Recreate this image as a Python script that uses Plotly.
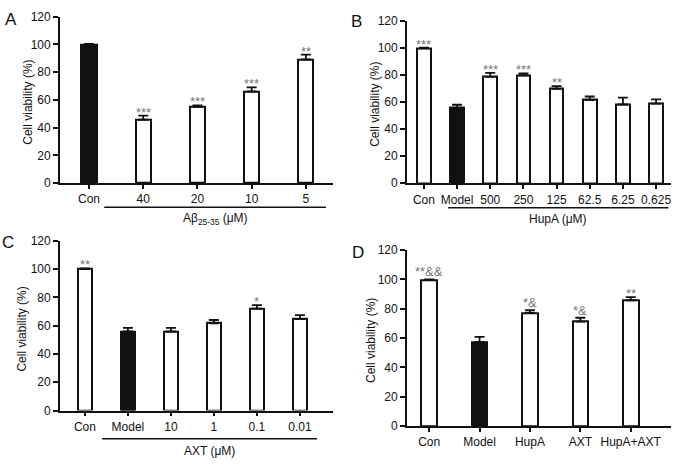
import plotly.graph_objects as go

# ---------------- data ----------------
a_labels = ["Con", "40", "20", "10", "5"]
a_values = [99.8, 45.8, 55.0, 66.1, 89.2]
a_errors = [0.5, 2.8, 1.0, 2.9, 3.4]
a_stars = ["", "***", "***", "***", "**"]
a_black = [True, False, False, False, False]
a_group = "Aβ<sub>25-35</sub> (μM)"

b_labels = ["Con", "Model", "500", "250", "125", "62.5", "6.25", "0.625"]
b_values = [99.6, 55.5, 78.4, 79.6, 69.6, 61.4, 58.1, 58.8]
b_errors = [0.5, 2.4, 3.0, 1.4, 2.1, 2.6, 5.0, 3.1]
b_stars = ["***", "", "***", "***", "**", "", "", ""]
b_black = [False, True, False, False, False, False, False, False]
b_group = "HupA (μM)"

c_labels = ["Con", "Model", "10", "1", "0.1", "0.01"]
c_values = [100.0, 56.0, 56.0, 61.7, 72.0, 64.7]
c_errors = [0.5, 2.5, 2.5, 2.3, 2.5, 2.7]
c_stars = ["**", "", "", "", "*", ""]
c_black = [False, True, False, False, False, False]
c_group = "AXT (μM)"

d_labels = ["Con", "Model", "HupA", "AXT", "HupA+AXT"]
d_values = [99.5, 57.4, 77.2, 71.3, 85.8]
d_errors = [0.5, 3.5, 1.8, 2.6, 2.2]
d_stars = ["**&&", "", "*&", "*&", "**"]
d_black = [False, True, False, False, False]

y_ticks = [0, 20, 40, 60, 80, 100, 120]
y_title = "Cell viability (%)"

# ---------------- layout constants ----------------
W, H = 677, 467
FONT = "Arial, Liberation Sans, sans-serif"
INK = "#111111"


def px(x):
    return x / W


def py(y):
    return 1 - y / H


panels = [
    dict(letter="A", labels=a_labels, values=a_values, errors=a_errors, stars=a_stars, black=a_black,
         group=a_group, xd=(60, 333), yd=(10, 181.5), xr=(-0.535, 4.5), bw=0.28,
         br=(0.28, 4.37, 206.5), gy=218.5, lp=(11, 13), tx=28),
    dict(letter="B", labels=b_labels, values=b_values, errors=b_errors, stars=b_stars, black=b_black,
         group=b_group, xd=(407, 671), yd=(14, 181.7), xr=(-0.51, 7.45), bw=0.41,
         br=(0.73, 7.37, 207), gy=218.5, lp=(356, 15), tx=375),
    dict(letter="C", labels=c_labels, values=c_values, errors=c_errors, stars=c_stars, black=c_black,
         group=c_group, xd=(60, 333), yd=(241, 416), xr=(-0.58, 5.77), bw=0.33,
         br=(0.4, 5.4, 445), gy=458, lp=(8, 243), tx=22),
    dict(letter="D", labels=d_labels, values=d_values, errors=d_errors, stars=d_stars, black=d_black,
         group=None, xd=(407, 671), yd=(250.7, 432), xr=(-0.44, 4.8), bw=0.31,
         br=None, gy=None, lp=(358, 253), tx=371),
]

fig = go.Figure()
annotations = []
shapes = []

for i, p in enumerate(panels):
    n = "" if i == 0 else str(i + 1)
    xa, ya = "x" + n, "y" + n
    colors = [INK if b else "white" for b in p["black"]]
    fig.add_trace(go.Bar(
        x=list(range(len(p["labels"]))), y=p["values"], xaxis=xa, yaxis=ya,
        width=p["bw"],
        marker=dict(color=colors, line=dict(color=INK, width=2)),
        error_y=dict(type="data", symmetric=False, array=p["errors"],
                     arrayminus=[0] * len(p["errors"]),
                     color=INK, thickness=1.8, width=5),
        showlegend=False, hoverinfo="skip",
    ))
    fig.update_layout(**{
        "xaxis" + n: dict(domain=[px(p["xd"][0]), px(p["xd"][1])], anchor=ya,
                          range=list(p["xr"]), tickmode="array",
                          tickvals=list(range(len(p["labels"]))), ticktext=p["labels"],
                          showline=True, linecolor=INK, linewidth=1.8,
                          ticks="outside", ticklen=4, tickwidth=1.5, tickcolor=INK,
                          showgrid=False, zeroline=False,
                          tickfont=dict(size=12, color=INK, family=FONT),
                          fixedrange=True),
        "yaxis" + n: dict(domain=[py(p["yd"][1]), py(p["yd"][0])], anchor=xa,
                          range=[0, 120], tickmode="array", tickvals=y_ticks,
                          showline=True, linecolor=INK, linewidth=1.8,
                          ticks="outside", ticklen=5, tickwidth=1.5, tickcolor=INK,
                          showgrid=False, zeroline=False,
                          tickfont=dict(size=12, color=INK, family=FONT),
                          fixedrange=True),
    })
    for j, s in enumerate(p["stars"]):
        if s:
            annotations.append(dict(
                x=j, y=p["values"][j] + p["errors"][j], xref=xa, yref=ya,
                text=s, showarrow=False, yanchor="bottom",
                yshift=-2 if "&" in s else -6,
                font=dict(size=13, color="#777777", family=FONT)))
    if p["br"]:
        x0, x1, yb = p["br"]
        shapes.append(dict(type="line", xref=xa, yref="paper", x0=x0, x1=x1,
                           y0=py(yb), y1=py(yb), line=dict(color=INK, width=1.5)))
        annotations.append(dict(x=(x0 + x1) / 2, y=py(p["gy"]), xref=xa, yref="paper",
                                text=p["group"], showarrow=False, yanchor="middle",
                                font=dict(size=12, color=INK, family=FONT)))
    annotations.append(dict(x=px(p["lp"][0]), y=py(p["lp"][1]), xref="paper", yref="paper",
                            text=p["letter"], showarrow=False, xanchor="center", yanchor="middle",
                            font=dict(size=17, color=INK, family=FONT)))
    annotations.append(dict(x=px(p["tx"]), y=py((p["yd"][0] + p["yd"][1]) / 2 + 3),
                            xref="paper", yref="paper", text=y_title, textangle=-90,
                            showarrow=False, xanchor="center", yanchor="middle",
                            font=dict(size=12, color=INK, family=FONT)))

fig.update_layout(
    width=W, height=H, margin=dict(l=0, r=0, t=0, b=0),
    paper_bgcolor="white", plot_bgcolor="white",
    annotations=annotations, shapes=shapes, bargap=0,
    font=dict(family=FONT, color=INK),
)

fig.write_html("out.html", config={"displayModeBar": False},
               post_script="document.body.style.margin='0';document.body.style.padding='0';")
